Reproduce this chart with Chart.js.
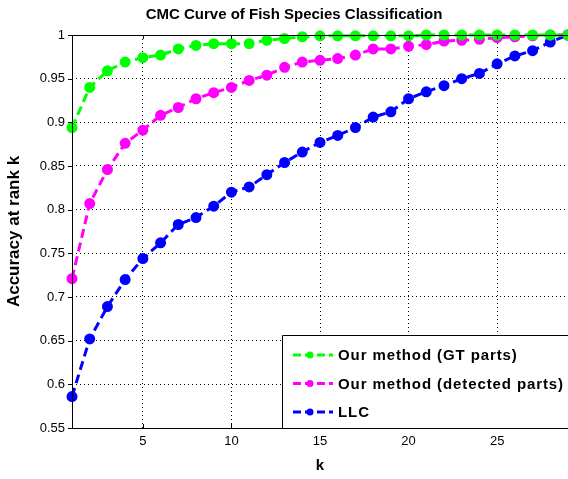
<!DOCTYPE html>
<html>
<head>
<meta charset="utf-8">
<script src="https://cdn.jsdelivr.net/npm/chart.js@4/dist/chart.umd.min.js"></script>
<style>
  html, body { margin: 0; padding: 0; background: #fff; overflow: hidden; }
  #wrap { width: 568px; height: 479px; }
</style>
</head>
<body>
<div id="wrap"><canvas id="cmc"></canvas></div>
<script>
const ks = [1,2,3,4,5,6,7,8,9,10,11,12,13,14,15,16,17,18,19,20,21,22,23,24,25,26,27,28,29];

const gtParts = [0.894,0.940,0.959,0.969,0.974,0.977,0.984,0.988,0.990,0.990,0.990,0.994,0.996,0.998,
    0.999,0.999,0.999,0.999,0.999,0.999,1.0,1.0,1.0,1.0,1.0,1.0,1.0,1.0,1.0];
const detectedParts = [0.721,0.807,0.846,0.876,0.891,0.908,0.917,0.927,0.934,0.940,0.948,0.954,0.963,0.969,
    0.971,0.973,0.977,0.984,0.984,0.987,0.989,0.993,0.994,0.995,0.997,0.998,0.999,1.0,1.0];
const llc = [0.586,0.652,0.689,0.720,0.744,0.762,0.783,0.791,0.804,0.820,0.826,0.840,0.854,0.866,
    0.877,0.885,0.894,0.906,0.912,0.927,0.935,0.942,0.950,0.956,0.967,0.976,0.982,0.992,1.0];

const seriesNames = ["Our method (GT parts)", "Our method (detected parts)", "LLC"];
const seriesColors = ["#00ff00", "#ff00ff", "#0000ff"];
const xTicks = [5, 10, 15, 20, 25];

const FONT = "'Liberation Sans', Arial, sans-serif";

// matlab style box, small ticks and title
const framePlugin = {
    id: "frame",
    afterDraw(chart) {
        const {ctx, chartArea: a} = chart;
        const xs = chart.scales.x, ys = chart.scales.y;
        ctx.save();
        ctx.strokeStyle = "#000";
        ctx.lineWidth = 1;
        ctx.beginPath();
        ctx.moveTo(a.right + 2, a.top + 0.5);
        ctx.lineTo(a.left + 0.5, a.top + 0.5);
        ctx.lineTo(a.left + 0.5, a.bottom + 0.5);
        ctx.lineTo(a.right + 2, a.bottom + 0.5);
        for (const t of xs.ticks) {
            const px = Math.round(xs.getPixelForValue(t.value)) + 0.5;
            ctx.moveTo(px, a.bottom);
            ctx.lineTo(px, a.bottom - 4);
            ctx.moveTo(px, a.top);
            ctx.lineTo(px, a.top + 4);
        }
        for (const t of ys.ticks) {
            const py = Math.round(ys.getPixelForValue(t.value)) + 0.5;
            ctx.moveTo(a.left - 4, py);
            ctx.lineTo(a.left, py);
        }
        ctx.stroke();

        ctx.fillStyle = "#000";
        ctx.font = "bold 15px " + FONT;
        ctx.textAlign = "center";
        ctx.textBaseline = "middle";
        ctx.fillText("CMC Curve of Fish Species Classification", a.left + 222, 15);
        ctx.restore();
    }
};

// legend box in lower right corner
const boxLegend = {
    id: "boxLegend",
    afterDraw(chart) {
        const {ctx, chartArea: a} = chart;
        const left = a.right - 286, top = a.bottom - 93;
        ctx.save();
        ctx.fillStyle = "#fff";
        ctx.fillRect(left, top, a.right - left + 2, a.bottom - top);
        ctx.strokeStyle = "#000";
        ctx.lineWidth = 1;
        ctx.beginPath();
        ctx.moveTo(a.right + 2, top + 0.5);
        ctx.lineTo(left + 0.5, top + 0.5);
        ctx.lineTo(left + 0.5, a.bottom);
        ctx.stroke();

        ctx.font = "bold 15px " + FONT;
        ctx.letterSpacing = "0.9px";
        ctx.textBaseline = "middle";
        chart.data.datasets.forEach((ds, i) => {
            const y = top + 20 + i * 28.5;
            ctx.strokeStyle = ds.borderColor;
            ctx.lineWidth = 3;
            ctx.setLineDash([8, 4]);
            ctx.beginPath();
            ctx.moveTo(left + 11, y);
            ctx.lineTo(left + 51, y);
            ctx.stroke();
            ctx.setLineDash([]);
            ctx.fillStyle = ds.borderColor;
            ctx.beginPath();
            ctx.arc(left + 28, y, 3.5, 0, Math.PI * 2);
            ctx.fill();
            ctx.fillStyle = "#000";
            ctx.fillText(ds.label, left + 56, y + 1);
        });
        ctx.restore();
    }
};

function makeSet(label, values, color) {
    return {
        label: label,
        data: ks.map((k, i) => ({x: k, y: values[i]})),
        borderColor: color,
        backgroundColor: color,
        pointBackgroundColor: color,
        pointBorderColor: color,
        borderWidth: 3,
        borderDash: [9, 5],
        pointRadius: 4,
        pointHoverRadius: 4,
        tension: 0,
        fill: false
    };
}

new Chart(document.getElementById("cmc").getContext("2d"), {
    type: "line",
    data: {
        datasets: [
            makeSet(seriesNames[0], gtParts, seriesColors[0]),
            makeSet(seriesNames[1], detectedParts, seriesColors[1]),
            makeSet(seriesNames[2], llc, seriesColors[2])
        ]
    },
    options: {
        responsive: true,
        maintainAspectRatio: false,
        animation: false,
        clip: false,
        layout: {autoPadding: false, padding: {top: 35, left: 0, right: 0, bottom: 0}},
        scales: {
            x: {
                type: "linear",
                min: 1,
                max: 29,
                afterBuildTicks: s => { s.ticks = xTicks.map(v => ({value: v})); },
                afterFit: s => { s.height = 51; s.paddingRight = 0; s.paddingLeft = 0; },
                grid: {color: "#000", lineWidth: 1, drawTicks: false},
                border: {display: false, dash: [1, 3]},
                ticks: {color: "#000", font: {family: FONT, size: 13}, padding: 6, maxRotation: 0},
                title: {display: true, text: "k", color: "#000", font: {family: FONT, size: 15, weight: "bold"}, padding: {top: 6}}
            },
            y: {
                min: 0.55,
                max: 1,
                afterFit: s => { s.width = 72; },
                grid: {color: "#000", lineWidth: 1, drawTicks: false},
                border: {display: false, dash: [1, 3]},
                ticks: {
                    stepSize: 0.05,
                    color: "#000",
                    font: {family: FONT, size: 13},
                    padding: 7,
                    callback: v => String(parseFloat(v.toFixed(2)))
                },
                title: {display: true, text: "Accuracy at rank k", color: "#000", font: {family: FONT, size: 17, weight: "bold"}, padding: {bottom: 2}}
            }
        },
        plugins: {
            legend: {display: false},
            title: {display: false},
            tooltip: {enabled: false}
        }
    },
    plugins: [framePlugin, boxLegend]
});
</script>
</body>
</html>
